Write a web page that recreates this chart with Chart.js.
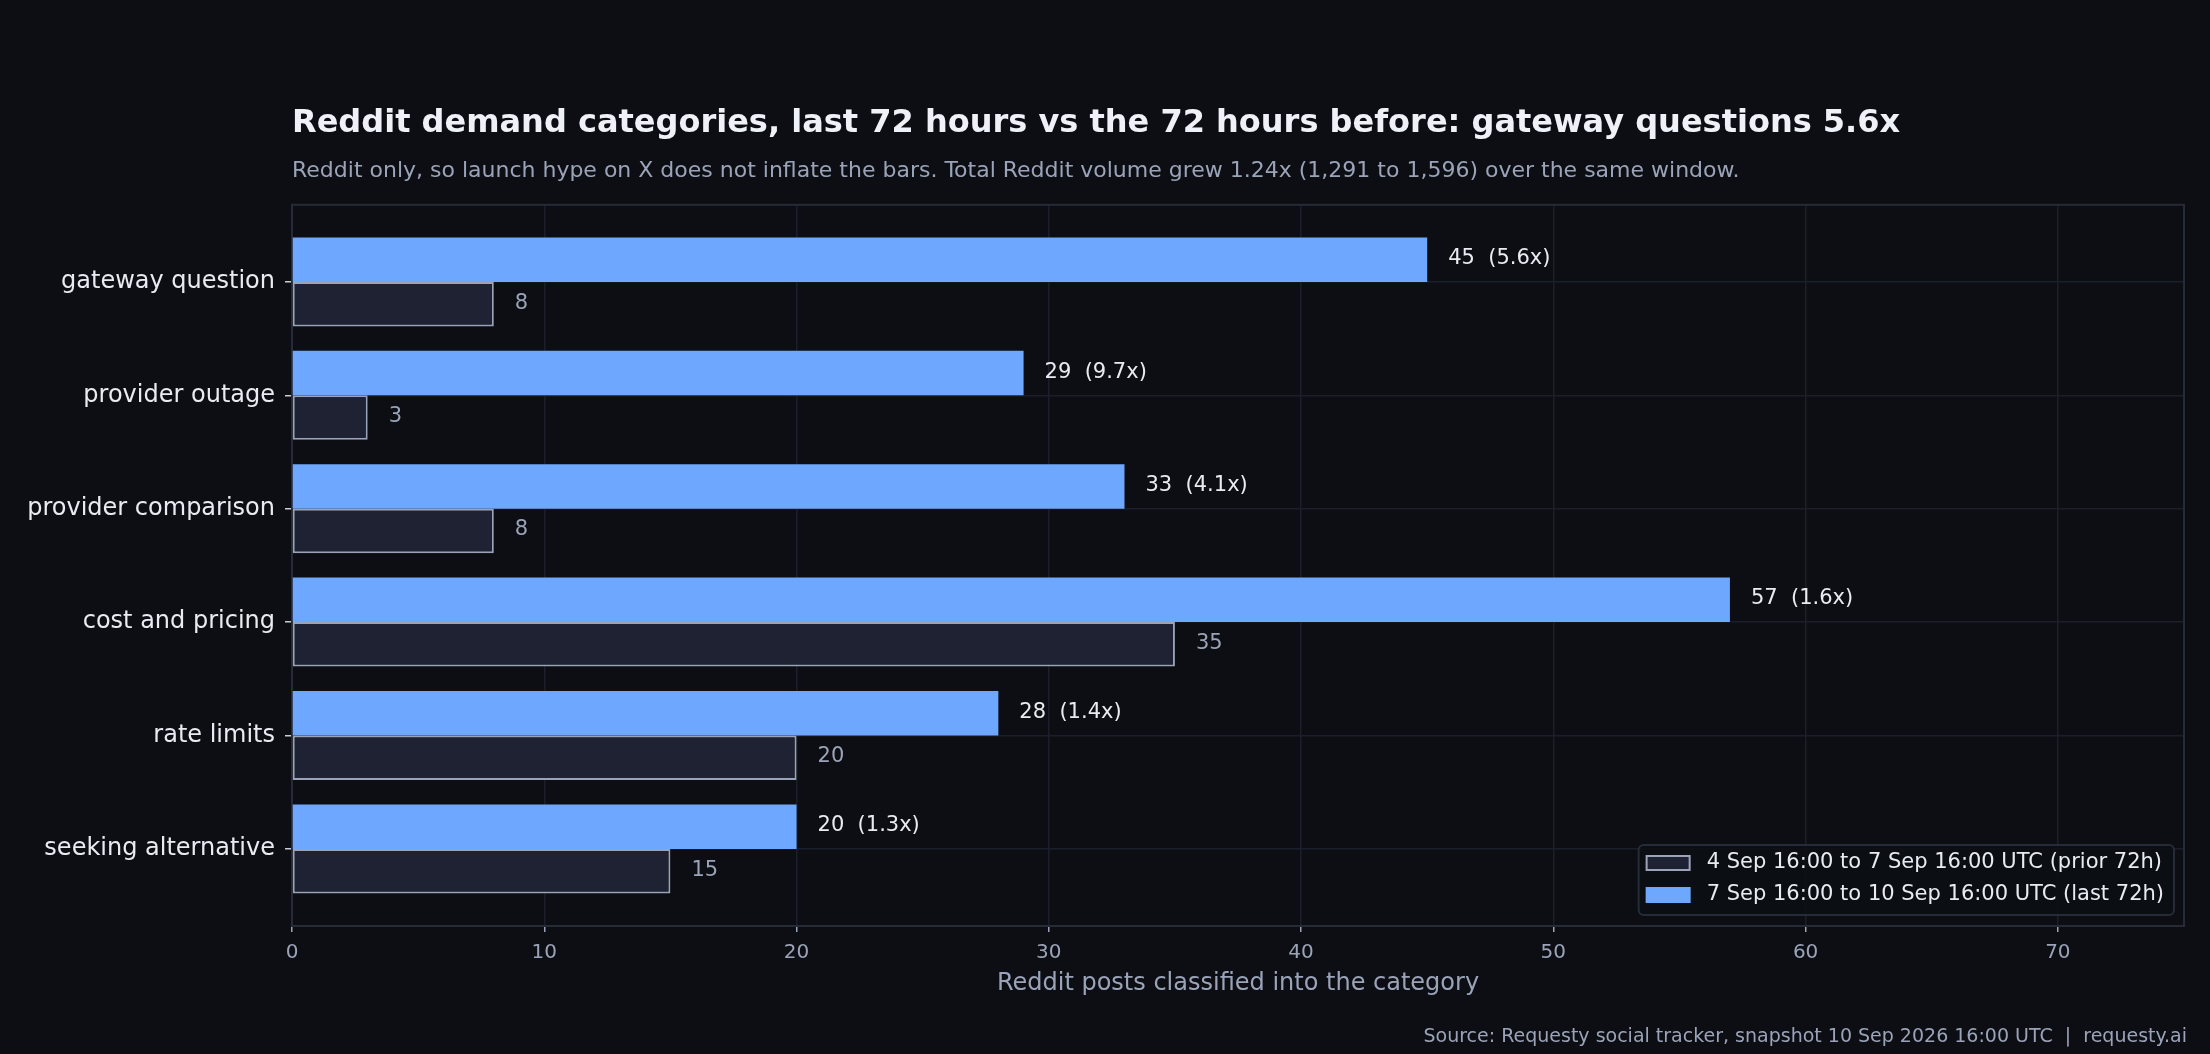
<!DOCTYPE html>
<html>
<head>
<meta charset="utf-8">
<title>Reddit demand categories</title>
<script src="https://cdn.jsdelivr.net/npm/chart.js@4.4.1/dist/chart.umd.min.js"></script>
<style>
  html, body { margin: 0; padding: 0; background: #0c0e13; }
  #wrap { width: 2210px; height: 1054px; }
</style>
</head>
<body>
<div id="wrap"><canvas id="grafico" width="2210" height="1054"></canvas></div>
<script>
// dados
const categorias = ['gateway question', 'provider outage', 'provider comparison', 'cost and pricing', 'rate limits', 'seeking alternative'];
const ultimas72 = [45, 29, 33, 57, 28, 20];
const anteriores72 = [8, 3, 8, 35, 20, 15];
const razoes = ['5.6', '9.7', '4.1', '1.6', '1.4', '1.3'];
const rotuloAnterior = '4 Sep 16:00 to 7 Sep 16:00 UTC (prior 72h)';
const rotuloUltimas = '7 Sep 16:00 to 10 Sep 16:00 UTC (last 72h)';
const fonte = 'Source: Requesty social tracker, snapshot 10 Sep 2026 16:00 UTC  |  requesty.ai';

const AZUL = '#6ea8fe';
const ESCURO = '#1e2232';
const CINZA = '#9aa3b8';
const BRANCO = '#e8ebf2';
const GRADE = '#1b1f2b';
const MOLDURA = '#262b38';

Chart.defaults.font.family = "'DejaVu Sans', sans-serif";

// fundo + moldura do eixo
const fundo = {
    id: 'fundo',
    beforeDraw(chart) {
        const ctx = chart.ctx;
        ctx.save();
        ctx.fillStyle = '#0c0e13';
        ctx.fillRect(0, 0, chart.width, chart.height);
        ctx.restore();
    },
    beforeDatasetsDraw(chart) {
        const a = chart.chartArea, ctx = chart.ctx;
        ctx.save();
        ctx.strokeStyle = MOLDURA;
        ctx.lineWidth = 2;
        ctx.strokeRect(a.left, a.top, a.right - a.left, a.bottom - a.top);
        ctx.restore();
    }
};

// rótulos de valor ao lado das barras
const rotulos = {
    id: 'rotulos',
    afterDatasetsDraw(chart) {
        const ctx = chart.ctx;
        ctx.save();
        ctx.font = '21px "DejaVu Sans"';
        ctx.textBaseline = 'middle';
        ctx.textAlign = 'left';
        chart.data.datasets.forEach((ds, d) => {
            chart.getDatasetMeta(d).data.forEach((el, i) => {
                let txt, cor;
                if (d === 0) {
                    txt = ultimas72[i] + '  (' + razoes[i] + 'x)';
                    cor = BRANCO;
                } else {
                    txt = String(anteriores72[i]);
                    cor = CINZA;
                }
                ctx.fillStyle = cor;
                ctx.fillText(txt, el.x + 21, el.y - 1);
            });
        });
        ctx.restore();
    }
};

// legenda dentro da área do gráfico + rodapé
const legenda = {
    id: 'legenda',
    afterDraw(chart) {
        const a = chart.chartArea, ctx = chart.ctx;
        ctx.save();
        ctx.font = '21px "DejaVu Sans"';
        const itens = [
            { txt: rotuloAnterior, fill: ESCURO, stroke: CINZA },
            { txt: rotuloUltimas, fill: AZUL, stroke: null }
        ];
        const larguraTxt = Math.max(...itens.map(it => ctx.measureText(it.txt).width));
        const w = 7 + 45 + 16 + larguraTxt + 10;
        const h = 70;
        const x = a.right - 10 - w;
        const y = a.bottom - 11 - h;
        ctx.beginPath();
        ctx.roundRect(x, y, w, h, 5);
        ctx.fillStyle = 'rgba(12,14,19,0.85)';
        ctx.fill();
        ctx.strokeStyle = MOLDURA;
        ctx.lineWidth = 2;
        ctx.stroke();
        itens.forEach((it, k) => {
            const cy = y + 18 + k * 32;
            ctx.fillStyle = it.fill;
            ctx.fillRect(x + 7, cy - 8, 45, 16);
            if (it.stroke) {
                ctx.strokeStyle = it.stroke;
                ctx.lineWidth = 2;
                ctx.strokeRect(x + 8, cy - 7, 43, 14);
            }
            ctx.fillStyle = BRANCO;
            ctx.textBaseline = 'middle';
            ctx.fillText(it.txt, x + 68, cy);
        });
        // rodapé
        ctx.font = '19px "DejaVu Sans"';
        ctx.fillStyle = CINZA;
        ctx.textAlign = 'right';
        ctx.textBaseline = 'alphabetic';
        ctx.fillText(fonte, 2187, 1042);
        ctx.restore();
    }
};

new Chart(document.getElementById('grafico'), {
    type: 'bar',
    data: {
        datasets: [{
            label: rotuloUltimas,
            data: ultimas72.map((v, i) => ({ x: v, y: i })),
            backgroundColor: AZUL,
            borderWidth: 0
        }, {
            label: rotuloAnterior,
            data: anteriores72.map((v, i) => ({ x: v, y: i })),
            backgroundColor: ESCURO,
            borderColor: CINZA,
            borderWidth: 2,
            borderSkipped: false
        }]
    },
    options: {
        indexAxis: 'y',
        responsive: false,
        animation: false,
        devicePixelRatio: 1,
        categoryPercentage: 0.785,
        barPercentage: 1,
        layout: { padding: { left: 0, right: 26, top: 0, bottom: 0 } },
        plugins: {
            legend: { display: false },
            tooltip: { enabled: false },
            title: {
                display: true,
                fullSize: false,
                align: 'start',
                text: 'Reddit demand categories, last 72 hours vs the 72 hours before: gateway questions 5.6x',
                color: '#eef1f7',
                font: { size: 32, weight: 'bold', lineHeight: 1.2 },
                padding: { top: 104, bottom: 0 }
            },
            subtitle: {
                display: true,
                fullSize: false,
                align: 'start',
                text: 'Reddit only, so launch hype on X does not inflate the bars. Total Reddit volume grew 1.24x (1,291 to 1,596) over the same window.',
                color: CINZA,
                font: { size: 22, lineHeight: 1.2 },
                padding: { top: 16, bottom: 20 }
            }
        },
        scales: {
            x: {
                type: 'linear',
                min: 0,
                max: 75,
                ticks: { stepSize: 10, includeBounds: false, color: CINZA, font: { size: 20 }, padding: 9 },
                grid: { color: GRADE, lineWidth: 1.5, tickColor: CINZA, tickLength: 6 },
                border: { display: false },
                title: {
                    display: true,
                    text: 'Reddit posts classified into the category',
                    color: CINZA,
                    font: { size: 24, lineHeight: 1.2 },
                    padding: { top: 0, bottom: 56 }
                },
                afterFit(eixo) { eixo.height = 128; }
            },
            y: {
                type: 'linear',
                reverse: true,
                min: -0.68,
                max: 5.68,
                offset: false,
                afterBuildTicks(eixo) { eixo.ticks = categorias.map((c, i) => ({ value: i })); },
                ticks: {
                    color: BRANCO,
                    font: { size: 24 },
                    padding: 10,
                    callback: v => categorias[v]
                },
                grid: { offset: false, color: GRADE, lineWidth: 1.5, tickColor: '#c8ccd6', tickLength: 7 },
                border: { display: false },
                afterFit(eixo) { eixo.width = 292; }
            }
        }
    },
    plugins: [fundo, rotulos, legenda]
});
</script>
</body>
</html>
